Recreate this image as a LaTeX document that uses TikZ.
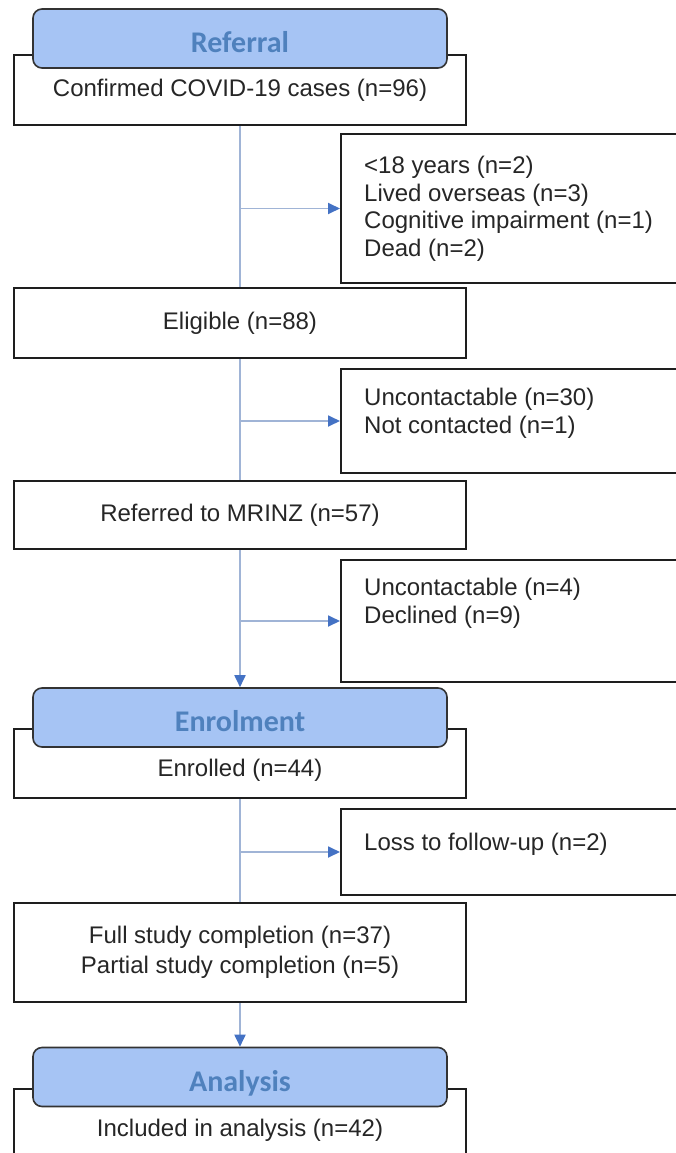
\documentclass[tikz,border=0pt]{standalone}
\usepackage{fontspec}
\setmainfont{Liberation Sans}
\newfontfamily\headfont{Carlito}
\usetikzlibrary{arrows.meta}
\definecolor{headfill}{RGB}{166,196,244}
\definecolor{headtext}{RGB}{79,129,189}
\definecolor{flowline}{RGB}{160,180,214}
\definecolor{flowtip}{RGB}{68,114,196}
\definecolor{boxline}{RGB}{30,30,30}
\begin{document}
\begin{tikzpicture}[x=1pt, y=-1pt,
    stage/.style={draw=boxline, line width=2pt, fill=white, minimum width=452pt, text=black!85, align=center, font=\fontsize{24}{30}\selectfont},
    exclbox/.style={draw=boxline, line width=2pt, fill=white, anchor=north west, minimum width=350pt},
    excltext/.style={anchor=north west, inner sep=0pt, align=left, text=black!85, font=\fontsize{24}{27.5}\selectfont},
    phase/.style={draw=black!80, line width=1.6pt, fill=headfill, rounded corners=9pt, minimum width=414pt, minimum height=59pt, text height=28pt, text depth=0pt, text=headtext, font=\headfont\bfseries\fontsize{30}{30}\selectfont},
    link/.style={draw=flowline, line width=1.8pt},
    linkarr/.style={link, -{Triangle[length=12pt, width=11pt, color=flowtip]}}]
        \useasboundingbox (0, 0) rectangle (676, 1153);
        \clip (0, 0) rectangle (676, 1153);
        \node[stage, minimum height=70pt] (cases) at (240, 90) {Confirmed COVID-19 cases (n=96)};
        \node[phase] (refhead) at (240, 38.5) {Referral};
        \node[exclbox, minimum height=149pt] (excl1) at (340, 133) {};
        \node[excltext] at ([xshift=24pt, yshift=-23pt]excl1.north west) {<18 years (n=2)\\Lived overseas (n=3)\\Cognitive impairment (n=1)\\Dead (n=2)};
        \node[stage, minimum height=70pt] (eligible) at (240, 323) {Eligible (n=88)};
        \node[exclbox, minimum height=104pt] (excl2) at (340, 368) {};
        \node[excltext] at ([xshift=24pt, yshift=-20pt]excl2.north west) {Uncontactable (n=30)\\Not contacted (n=1)};
        \node[stage, minimum height=68pt] (referred) at (240, 515) {Referred to MRINZ (n=57)};
        \node[exclbox, minimum height=122pt] (excl3) at (340, 559) {};
        \node[excltext] at ([xshift=24pt, yshift=-19pt]excl3.north west) {Uncontactable (n=4)\\Declined (n=9)};
        \node[stage, minimum height=69pt, text height=30pt, text depth=5pt] (enrolled) at (240, 763.5) {Enrolled (n=44)};
        \node[phase] (enrolhead) at (240, 717.5) {Enrolment};
        \node[exclbox, minimum height=86pt] (excl4) at (340, 808) {};
        \node[excltext] at ([xshift=24pt, yshift=-25pt]excl4.north west) {Loss to follow-up (n=2)};
        \node[stage, minimum height=99pt] (full) at (240, 952.5) {Full study completion (n=37)\\Partial study completion (n=5)};
        \node[stage, minimum height=82pt] (included) at (240, 1130) {Included in analysis (n=42)};
        \node[phase] (anahead) at (240, 1077) {Analysis};
        \draw[link] (cases) -- (eligible);
        \draw[linkarr] (cases |- excl1) -- (excl1);
        \draw[link] (eligible) -- (referred);
        \draw[linkarr] (eligible |- excl2) -- (excl2);
        \draw[linkarr] (referred) -- (enrolhead);
        \draw[linkarr] (referred |- excl3) -- (excl3);
        \draw[link] (enrolled) -- (full);
        \draw[linkarr] (enrolled |- excl4) -- (excl4);
        \draw[linkarr] (full) -- (anahead);
    \end{tikzpicture}
\end{document}
